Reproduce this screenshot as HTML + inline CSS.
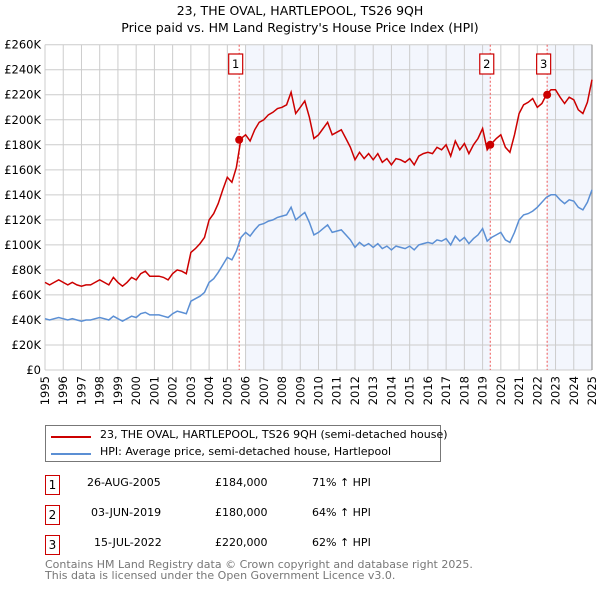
<!DOCTYPE html>
<html><head><meta charset="utf-8">
<style>
body{margin:0;background:#fff;font-family:"DejaVu Sans","Liberation Sans",sans-serif;}
#wrap{position:relative;width:600px;height:590px;overflow:hidden;}
.t{position:absolute;font-size:12px;color:#000;white-space:nowrap;}
.box{position:absolute;border:1.5px solid #c00;width:13px;height:18px;font-size:12px;text-align:center;line-height:18px;}
</style></head><body>
<div id="wrap">
<div class="t" style="left:0;width:600px;text-align:center;top:3px;font-size:12.5px">23, THE OVAL, HARTLEPOOL, TS26 9QH</div>
<div class="t" style="left:0;width:600px;text-align:center;top:20px;font-size:12.5px">Price paid vs. HM Land Registry's House Price Index (HPI)</div>
<svg id="chart" width="600" height="420" style="position:absolute;left:0;top:0"></svg>
<div style="position:absolute;left:45px;top:425px;width:394px;height:35px;border:1px solid #777">
 <div style="position:absolute;left:5px;top:10px;width:40px;height:2px;background:#c00"></div>
 <div class="t" style="left:54px;top:2px;font-size:11px">23, THE OVAL, HARTLEPOOL, TS26 9QH (semi-detached house)</div>
 <div style="position:absolute;left:5px;top:27px;width:40px;height:2px;background:#5b8fd4"></div>
 <div class="t" style="left:54px;top:19px;font-size:11px">HPI: Average price, semi-detached house, Hartlepool</div>
</div>
<div class="box" style="left:45px;top:475px">1</div>
<div class="t" style="left:87px;top:476px;font-size:11px">26-AUG-2005</div>
<div class="t" style="left:215px;top:476px;font-size:11px">£184,000</div>
<div class="t" style="left:312px;top:476px;font-size:11px">71% ↑ HPI</div>
<div class="box" style="left:45px;top:505px">2</div>
<div class="t" style="left:91px;top:506px;font-size:11px">03-JUN-2019</div>
<div class="t" style="left:215px;top:506px;font-size:11px">£180,000</div>
<div class="t" style="left:312px;top:506px;font-size:11px">64% ↑ HPI</div>
<div class="box" style="left:45px;top:535px">3</div>
<div class="t" style="left:94px;top:536px;font-size:11px">15-JUL-2022</div>
<div class="t" style="left:215px;top:536px;font-size:11px">£220,000</div>
<div class="t" style="left:312px;top:536px;font-size:11px">62% ↑ HPI</div>
<div class="t" style="left:45px;top:560px;font-size:11px;color:#777;line-height:10.5px">Contains HM Land Registry data © Crown copyright and database right 2025.<br>This data is licensed under the Open Government Licence v3.0.</div>
</div>
<script>
const yTicks=[0,20,40,60,80,100,120,140,160,180,200,220,240,260];
const years=[1995,1996,1997,1998,1999,2000,2001,2002,2003,2004,2005,2006,2007,2008,2009,2010,2011,2012,2013,2014,2015,2016,2017,2018,2019,2020,2021,2022,2023,2024,2025];
const startYear=1995, step=0.25;
const hpi=[41,40,41,42, 41,40,41,40, 39,40,40,41, 42,41,40,43, 41,39,41,43, 42,45,46,44, 44,44,43,42, 45,47,46,45,
55,57,59,62, 70,73,78,84, 90,88,95,106, 110,107,112,116, 117,119,120,122, 123,124,130,120, 123,126,118,108,
110,113,116,110, 111,112,108,104, 98,102,99,101, 98,101,97,99, 96,99,98,97, 99,96,100,101, 102,101,104,103,
105,100,107,103, 106,101,105,108, 113,103,106,108, 110,104,102,110, 120,124,125,127, 130,134,138,140,
140,136,133,136, 135,130,128,134, 144];
const price=[70,68,70,72, 70,68,70,68, 67,68,68,70, 72,70,68,74, 70,67,70,74, 72,77,79,75, 75,75,74,72, 77,80,79,77,
94,97,101,106, 120,125,133,144, 154,150,162,185, 188,183,192,198, 200,204,206,209, 210,212,222,205, 210,215,202,185,
188,193,198,188, 190,192,185,178, 168,174,169,173, 168,173,166,169, 164,169,168,166, 169,164,171,173, 174,173,178,176,
180,171,183,176, 181,173,180,185, 193,176,181,185, 188,178,174,188, 205,212,214,217, 210,213,220,224,
224,218,213,218, 216,208,205,214, 232];
const saleDates=[2005.65,2019.42,2022.54];
const salePrices=[184,180,220];
const saleLabels=["1","2","3"];

const NS="http://www.w3.org/2000/svg";
const svg=document.getElementById('chart');
const X0=45,X1=592,Y0=370,Y1=44.7;
const xs=y=>X0+(y-1995)/30*(X1-X0);
const ys=v=>Y0-v/260*(Y0-Y1);
function mk(tag,attrs,parent){const e=document.createElementNS(NS,tag);for(const k in attrs)e.setAttribute(k,attrs[k]);(parent||svg).appendChild(e);return e;}
let r;
r=mk('rect',{x:xs(2006),y:Y1,width:xs(saleDates[1])-xs(2006),height:Y0-Y1,fill:'#f3f6fd'});


r=mk('rect',{x:xs(saleDates[2]),y:Y1,width:X1-xs(saleDates[2]),height:Y0-Y1,fill:'#f3f6fd'});


yTicks.forEach(v=>{
 const l=mk('line',{x1:X0,x2:X1,y1:ys(v),y2:ys(v),stroke:'#ccc','stroke-width':1});
 
 
 const t=mk('text',{x:X0-4,y:ys(v)+4,'text-anchor':'end','font-size':11.5,'font-family':'DejaVu Sans, Liberation Sans, sans-serif'});
 t.textContent=v===0?'£0':'£'+v+'K';
 
 
});
years.forEach(y=>{
 const l=mk('line',{x1:xs(y),x2:xs(y),y1:Y1,y2:Y0,stroke:'#ccc','stroke-width':1});
 
 
 const t=mk('text',{x:0,y:0,'text-anchor':'end','font-size':11.5,'font-family':'DejaVu Sans, Liberation Sans, sans-serif',transform:`translate(${xs(y)+4},${Y0+6}) rotate(-90)`});
 t.textContent=y;
 
 
});
const ax=mk('line',{x1:X1,x2:X1,y1:Y1,y2:Y0,stroke:'#888','stroke-width':1});


saleDates.forEach((d,i)=>{
 const l=mk('line',{x1:xs(d),x2:xs(d),y1:Y1,y2:Y0,stroke:'#e55','stroke-width':1,'stroke-dasharray':'2,2'});
 
 
 const g=mk('g',{});
 
 
 mk('rect',{x:xs(d)-10.5,y:54,width:14,height:20,fill:'#fff',stroke:'#c00','stroke-width':1.2},g);
 const t=mk('text',{x:xs(d)-3.5,y:68,'text-anchor':'middle','font-size':11.5,'font-family':'DejaVu Sans, sans-serif'},g);
 t.textContent=saleLabels[i];
});
function path(arr,color,name){
 const d=arr.map((v,i)=>(i?'L':'M')+xs(startYear+i*step).toFixed(1)+','+ys(v).toFixed(1)).join('');
 const p=mk('path',{d:d,fill:'none',stroke:color,'stroke-width':1.5});
 
 
}
path(hpi,'#5b8fd4','hpi-line');
path(price,'#cc0000','price-line');
saleDates.forEach((d,i)=>{
 const c=mk('circle',{cx:xs(d),cy:ys(salePrices[i]),r:4,fill:'#cc0000'});
 
 
});
</script>
</body></html>
